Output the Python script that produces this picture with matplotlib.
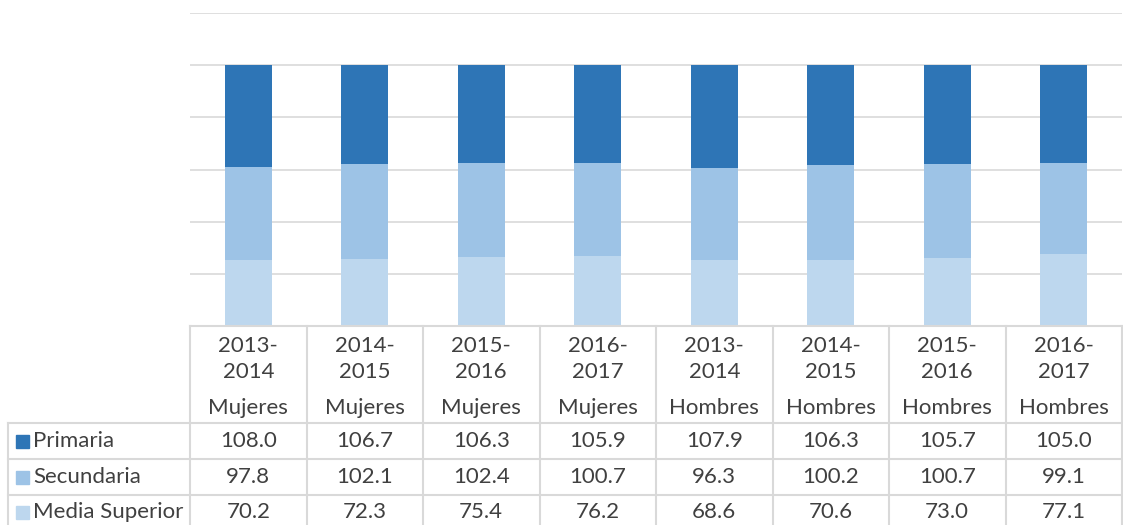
import matplotlib
matplotlib.use("Agg")
import matplotlib.pyplot as plt
import numpy as np

periods = ["2013-\n2014", "2014-\n2015", "2015-\n2016", "2016-\n2017",
           "2013-\n2014", "2014-\n2015", "2015-\n2016", "2016-\n2017"]
groups = ["Mujeres"] * 4 + ["Hombres"] * 4
series_names = ["Primaria", "Secundaria", "Media Superior"]
primaria = [108.0, 106.7, 106.3, 105.9, 107.9, 106.3, 105.7, 105.0]
secundaria = [97.8, 102.1, 102.4, 100.7, 96.3, 100.2, 100.7, 99.1]
media_superior = [70.2, 72.3, 75.4, 76.2, 68.6, 70.6, 73.0, 77.1]
colors = ["#2E75B6", "#9DC3E6", "#BDD7EE"]

plt.rcParams['font.family'] = ['Lato', 'DejaVu Sans']
W, H = 1123, 525
fig = plt.figure(figsize=(W / 100, H / 100), dpi=100)

# pixel geometry
px_left, px_right = 190, 1122
px_top, px_bottom = 13, 326
ax = fig.add_axes([px_left / W, 1 - px_bottom / H, (px_right - px_left) / W, (px_bottom - px_top) / H])

vals = np.array([primaria, secundaria, media_superior])
tot = vals.sum(axis=0)
shares = vals / tot
n = len(primaria)
x = np.arange(n)
bottom = np.zeros(n)
for i in [2, 1, 0]:
    ax.bar(x, shares[i], 0.40, bottom=bottom, color=colors[i], zorder=3)
    bottom += shares[i]

ax.set_xlim(-0.5, n - 0.5)
ax.set_ylim(0, 1.2)
ax.set_yticks(np.arange(0, 1.21, 0.2))
ax.yaxis.grid(True, color="#D9D9D9", linewidth=1.2, zorder=0)
ax.tick_params(left=False, bottom=False, labelleft=False, labelbottom=False)
for s in ax.spines.values():
    s.set_visible(False)

# overlay for table in pixel coordinates
ov = fig.add_axes([0, 0, 1, 1], facecolor="none")
ov.set_xlim(0, W)
ov.set_ylim(H, 0)
ov.axis("off")

lc = "#D9D9D9"
lw = 1.5
col_w = (px_right - px_left) / n
row_lines = [423, 459, 495]
tab_bottom = 525
label_left = 8
txt_color = "#404040"
fs = 16

# vertical lines
for k in range(n + 1):
    xx = px_left + k * col_w
    ov.plot([xx, xx], [px_bottom, tab_bottom], color=lc, lw=lw)
ov.plot([label_left, label_left], [row_lines[0], tab_bottom], color=lc, lw=lw)
for yy in row_lines:
    ov.plot([label_left, px_right], [yy, yy], color=lc, lw=lw)
ov.plot([px_left, px_right], [px_bottom, px_bottom], color=lc, lw=lw)

for k in range(n):
    cx = px_left + (k + 0.5) * col_w
    p1, p2 = periods[k].split("\n")
    ov.text(cx, 346, p1, ha="center", va="center", fontsize=fs, color=txt_color)
    ov.text(cx, 372, p2, ha="center", va="center", fontsize=fs, color=txt_color)
    ov.text(cx, 408, groups[k], ha="center", va="center", fontsize=fs, color=txt_color)

row_centers = [441, 477, 512]
for r in range(3):
    yc = row_centers[r]
    ov.add_patch(plt.Rectangle((16, yc - 6.5), 13, 13, color=colors[r]))
    ov.text(33, yc, series_names[r], ha="left", va="center", fontsize=fs, color=txt_color)
    for k in range(n):
        cx = px_left + (k + 0.5) * col_w
        ov.text(cx, yc, f"{vals[r][k]:.1f}", ha="center", va="center", fontsize=fs, color=txt_color)

fig.savefig("out.png", dpi=100)
